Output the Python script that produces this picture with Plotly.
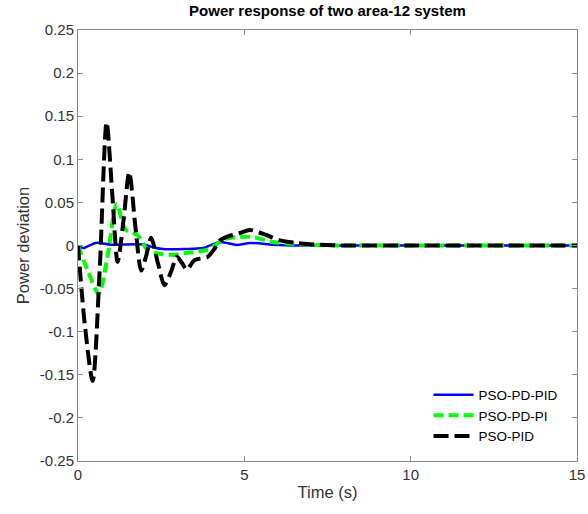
import plotly.graph_objects as go

# PSO-PID (black dashed)
t_pid = [0, 0.2, 0.44, 0.65, 0.86, 1.03, 1.19, 1.37, 1.54, 1.73, 1.9, 2.05, 2.2, 2.4, 2.6, 2.8, 2.97, 3.12, 3.27, 3.5, 3.9, 4.1, 4.27, 4.47, 4.87, 5.17, 5.67, 6.07, 6.57, 7.2, 8.0, 10.0, 15.0]
v_pid = [0, -0.09, -0.157, -0.03, 0.143, 0.06, -0.019, 0.03, 0.085, 0.02, -0.029, -0.012, 0.009, -0.02, -0.046, -0.03, -0.013, -0.02, -0.028, -0.017, -0.013, -0.004, 0.006, 0.010, 0.0145, 0.018, 0.012, 0.006, 0.003, 0.001, 0.0, 0.0, 0.0]

# PSO-PD-PI (green dashed)
t_pdpi = [0, 0.3, 0.62, 0.9, 1.16, 1.44, 1.79, 2.09, 2.35, 2.85, 3.2, 3.87, 4.27, 4.47, 5.17, 5.87, 6.37, 7.2, 8.0, 10.0, 15.0]
v_pdpi = [0, -0.03, -0.056, -0.01, 0.048, 0.018, 0.012, -0.005, -0.009, -0.011, -0.009, -0.005, 0.004, 0.008, 0.010, 0.004, 0.002, 0.0005, 0.0, 0.0, 0.0]

# PSO-PD-PID (blue solid)
t_pdpid = [0, 0.15, 0.54, 1.0, 2.0, 2.25, 2.55, 3.2, 3.76, 4.27, 4.77, 5.17, 5.87, 6.5, 8.0, 10.0, 15.0]
v_pdpid = [0, -0.003, 0.003, 0.001, 0.001, -0.002, -0.004, -0.004, -0.003, 0.004, 0.0006, 0.003, 0.001, 0.0, 0.0, 0.0, 0.0]

x_ticks = [0, 5, 10, 15]
y_ticks = [-0.25, -0.2, -0.15, -0.1, -0.05, 0, 0.05, 0.1, 0.15, 0.2, 0.25]
y_tick_labels = ["-0.25", "-0.2", "-0.15", "-0.1", "-0.05", "0", "0.05", "0.1", "0.15", "0.2", "0.25"]

FONT = "Liberation Sans, Arial, sans-serif"

fig = go.Figure()
fig.add_trace(go.Scatter(x=t_pdpid, y=v_pdpid, mode="lines", name="PSO-PD-PID",
                         line=dict(color="#0000ff", width=2.5, shape="spline", smoothing=0.8)))
fig.add_trace(go.Scatter(x=t_pdpi, y=v_pdpi, mode="lines", name="PSO-PD-PI",
                         line=dict(color="#00ff00", width=4, dash="10px,5px", shape="spline", smoothing=0.8)))
fig.add_trace(go.Scatter(x=t_pid, y=v_pid, mode="lines", name="PSO-PID",
                         line=dict(color="#000000", width=4, dash="15px,6px", shape="spline", smoothing=0.8)))

axis_common = dict(showline=True, linecolor="#8a8a8a", linewidth=1, mirror="ticks",
                   ticks="inside", ticklen=5, tickcolor="#8a8a8a", showgrid=False, zeroline=False,
                   automargin=False,
                   tickfont=dict(family=FONT, size=15, color="#333333"))

fig.update_layout(
    width=588, height=514,
    margin=dict(l=78, r=11, t=30, b=53),
    paper_bgcolor="white", plot_bgcolor="white",
    title=dict(text="<b>Power response of two area-12 system</b>", x=0.5, xref="paper", xanchor="center",
               y=1, yref="container", yanchor="top", pad=dict(t=5),
               font=dict(family=FONT, size=15, color="#000000")),
    xaxis=dict(range=[0, 15], tickvals=x_ticks, ticktext=[str(v) for v in x_ticks],
               title=dict(text="Time (s)", standoff=4,
                          font=dict(family=FONT, size=16.5, color="#333333")),
               **axis_common),
    yaxis=dict(range=[-0.25, 0.25], tickvals=y_ticks, ticktext=y_tick_labels,
               title=dict(text="Power deviation", standoff=6,
                          font=dict(family=FONT, size=16.5, color="#333333")),
               **axis_common),
    legend=dict(x=0.973, xanchor="right", y=0.022, yanchor="bottom", bgcolor="rgba(255,255,255,1)",
                borderwidth=0, font=dict(family=FONT, size=13.5, color="#000000"),
                itemwidth=40),
    showlegend=True,
)

fig.write_html("out.html", config={"displayModeBar": False},
               post_script="document.body.style.margin='0';")
